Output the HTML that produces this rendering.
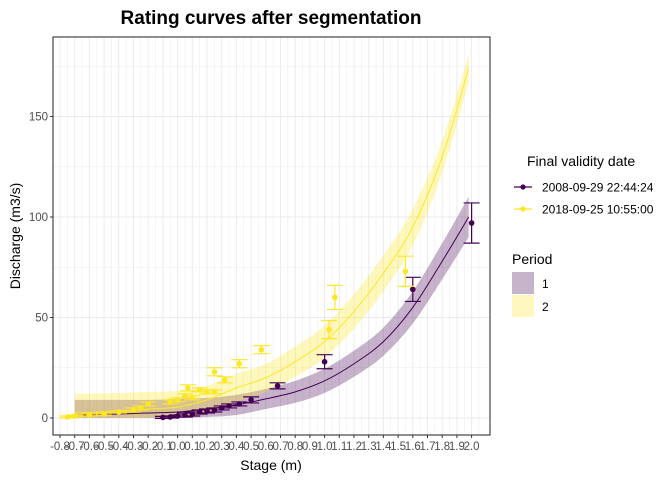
<!DOCTYPE html>
<html><head><meta charset="utf-8"><style>
body{margin:0;background:#fff;font-family:"Liberation Sans",sans-serif}
svg text{font-family:"Liberation Sans",sans-serif}
</style></head><body>
<svg id="c" width="672" height="480">
<defs><clipPath id="pc"><rect x="53" y="37" width="437" height="398"/></clipPath></defs>
<text x="271" y="24" text-anchor="middle" font-size="19" font-weight="bold" fill="#000">Rating curves after segmentation</text>
<g id="grid" clip-path="url(#pc)"></g><g id="marks" clip-path="url(#pc)"></g><g id="axes"></g>
<text x="271" y="470" text-anchor="middle" font-size="14">Stage (m)</text>
<text transform="translate(20,236) rotate(-90)" text-anchor="middle" font-size="14">Discharge (m3/s)</text>
<g>
<text x="527" y="166" font-size="14">Final validity date</text>
<g><line x1="514" y1="187" x2="532" y2="187" stroke="#440154" stroke-width="1.2"/><circle cx="523" cy="187" r="2.6" fill="#440154"/><text x="542" y="191.5" font-size="12">2008-09-29 22:44:24</text></g>
<g><line x1="514" y1="209" x2="532" y2="209" stroke="#FDE725" stroke-width="1.2"/><circle cx="523" cy="209" r="2.6" fill="#FDE725"/><text x="542" y="213.5" font-size="12">2018-09-25 10:55:00</text></g>
<text x="512" y="264" font-size="14">Period</text>
<g><rect x="512" y="272" width="22" height="22" fill="#c6b4cb"/><text x="542" y="288" font-size="12">1</text></g>
<g><rect x="512" y="295" width="22" height="22" fill="#fef7c0"/><text x="542" y="311" font-size="12">2</text></g>
</g>
</svg>
<script>
const stages=[-0.7,-0.4,-0.2,0,0.2,0.4,0.6,0.8,1.0,1.2,1.4,1.6,1.8,1.98];
const curve1=[1.5,2,2.5,3,4.5,6.5,9.5,13,18.5,27,38,55,78,100];
const low1=[0,0,0,0,0.5,1.5,4.5,7.5,12.5,20.5,31,47,69,90];
const up1=[9,9,9,9.5,10,11.5,14.5,18.5,24.5,33.5,45,63,87,110];
const curve2=[2.5,3.5,4.5,5.5,9,15,20,28,38,53,72,95,130,174];
const low2=[0,0,0,0.5,2.5,8,13,20.5,30,44.5,63,86,122,167];
const up2=[12,12.5,13,13.5,16,22,27,35.5,46,61.5,81,104,138,181];
const obsH1=[2.0,1.6,1.0,0.68,0.5,0.42,0.35,0.3,0.25,0.2,0.15,0.1,0.05,0.0,-0.05,-0.1];
const obsQ1=[97,64,28,16,9,7,6,5,4,3.5,3,2,1.5,1,0.5,0.3];
const obsE1=[10,6,3.5,1.5,1.5,1,1,1,1,1,1,1,1,0.5,0.5,0.5];
const obsH2=[1.55,1.07,1.03,0.57,0.42,0.25,0.32,0.07,0.15,0.2,0.25,0.0,-0.05,-0.2,-0.25,-0.3,-0.4,-0.5,-0.6,-0.7,-0.75,0.05,0.1];
const obsQ2=[73,60,44,34,27,23,19,15,14,13,13,9,8,7,5,4,3,2,1.5,1,0.5,11,10];
const obsE2=[7.5,6,4.5,2,2,2,1.5,1.5,1,1,1,1,1,1,1,1,0.5,0.5,0.5,0.5,0.5,1,1];
const xTicks=[];for(let i=0;i<=28;i++)xTicks.push(+(-0.8+i*0.1).toFixed(1));
const yTicks=[0,50,100,150];
const L=53,R=490,T=37,B=435;
const X=v=>60+(v+0.8)*147;
const Y=v=>418-2.01*v;
const ns="http://www.w3.org/2000/svg";
function mk(p,t,a){const e=document.createElementNS(ns,t);for(const k in a)e.setAttribute(k,a[k]);p.appendChild(e);return e;}
const grid=document.getElementById('grid'),marks=document.getElementById('marks'),axes=document.getElementById('axes');
for(let i=-1;i<=57;i++){const v=-0.8+i*0.05;const l=mk(grid,'line',{x1:X(v),x2:X(v),y1:T,y2:B,stroke:'#ebebeb','stroke-width':i%2?0.5:1});}
for(let v=0;v<=175;v+=25){const l=mk(grid,'line',{x1:L,x2:R,y1:Y(v),y2:Y(v),stroke:'#ebebeb','stroke-width':v%50?0.5:1});}
function smooth(p){let d='M'+p[0][0]+','+p[0][1];for(let i=0;i<p.length-1;i++){const p0=p[i-1]||p[i],p1=p[i],p2=p[i+1],p3=p[i+2]||p2;d+='C'+(p1[0]+(p2[0]-p0[0])/6)+','+(p1[1]+(p2[1]-p0[1])/6)+' '+(p2[0]-(p3[0]-p1[0])/6)+','+(p2[1]-(p3[1]-p1[1])/6)+' '+p2[0]+','+p2[1];}return d;}
function band(lo,up,fill,name){const a=stages.map((h,i)=>[X(h),Y(up[i])]);const b=stages.map((h,i)=>[X(h),Y(lo[i])]).reverse();const d=smooth(a)+'L'+smooth(b).slice(1)+'Z';const p=mk(marks,'path',{d:d,fill:fill,'fill-opacity':0.3});}
function line(q,col,name){const pts=stages.map((h,i)=>[X(h),Y(q[i])]);const p=mk(marks,'path',{d:smooth(pts),fill:'none',stroke:col,'stroke-width':1});}
function pts(H,Q,E,col,name){H.forEach((h,i)=>{const g=mk(marks,'g',{});const x=X(h),y1=Y(Q[i]+E[i]),y2=Y(Q[i]-E[i]);mk(g,'line',{x1:x,x2:x,y1:y1,y2:y2,stroke:col,'stroke-width':1.2});mk(g,'line',{x1:x-8,x2:x+8,y1:y1,y2:y1,stroke:col,'stroke-width':1.2});mk(g,'line',{x1:x-8,x2:x+8,y1:y2,y2:y2,stroke:col,'stroke-width':1.2});mk(g,'circle',{cx:x,cy:Y(Q[i]),r:2.8,fill:col});});}
band(low1,up1,'#440154','band-period-1');
band(low2,up2,'#FDE725','band-period-2');
line(curve1,'#440154','curve-2008');
line(curve2,'#FDE725','curve-2018');
pts(obsH1,obsQ1,obsE1,'#440154','gauging-2008');
pts(obsH2,obsQ2,obsE2,'#FDE725','gauging-2018');
const fr=mk(axes,'rect',{x:L,y:T,width:R-L,height:B-T,fill:'none',stroke:'#333','stroke-width':1.1});

xTicks.forEach(v=>{mk(axes,'line',{x1:X(v),x2:X(v),y1:B,y2:B+3,stroke:'#333'});const t=mk(axes,'text',{x:X(v),y:B+15,'text-anchor':'middle','font-size':11.5,fill:'#4d4d4d'});t.textContent=v.toFixed(1);});
yTicks.forEach(v=>{mk(axes,'line',{x1:L-3,x2:L,y1:Y(v),y2:Y(v),stroke:'#333'});const t=mk(axes,'text',{x:L-5,y:Y(v)+4,'text-anchor':'end','font-size':11.5,fill:'#4d4d4d'});t.textContent=v;});
</script>
</body></html>
